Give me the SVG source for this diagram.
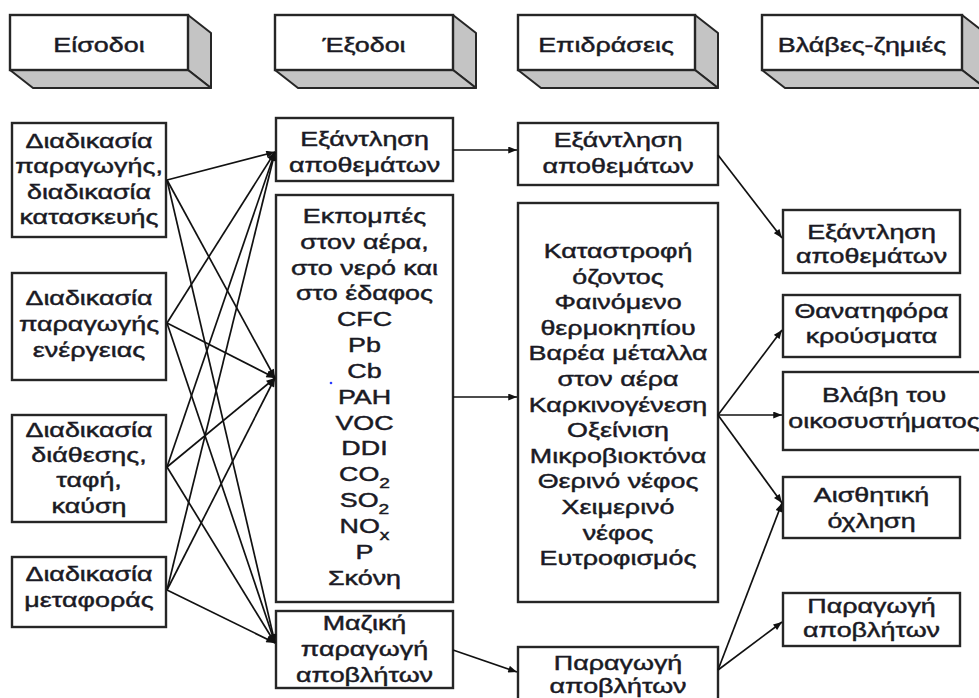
<svg xmlns="http://www.w3.org/2000/svg" width="979" height="698" viewBox="0 0 979 698">
  <defs>
    <marker id="arrow" viewBox="0 0 10 8" refX="10" refY="4" markerWidth="10" markerHeight="7" markerUnits="userSpaceOnUse" orient="auto">
      <path d="M0,0 L10,4 L0,8 Z" fill="#111"/>
    </marker>
  </defs>
  <style>
    .box { fill: #fff; stroke: #262626; stroke-width: 2.4; }
    .side { fill: #c4c4c4; stroke: #262626; stroke-width: 2; stroke-linejoin: round; }
    .lbl { font-family: "Liberation Sans", Arial, sans-serif; font-size: 21px; fill: #1a1a24; stroke: #1a1a24; stroke-width: 0.45; text-anchor: middle; }
    .sub { font-size: 15px; }
    .conn line { stroke: #111; stroke-width: 1.7; marker-end: url(#arrow); }
  </style>

  <rect width="979" height="698" fill="#fff"/>

  <!-- column headers drawn as 3D blocks -->
  <g id="hdr-inputs">
    <polygon class="side" points="188,15 211,33 211,88 188,70"/>
    <polygon class="side" points="10,70 188,70 211,88 33,88"/>
    <rect class="box" x="10" y="15" width="178" height="55"/>
    <g transform="translate(99 0) scale(1.28 1)"><text class="lbl" x="0" y="52">Είσοδοι</text></g>
  </g>
  <g id="hdr-outputs">
    <polygon class="side" points="453,15 476,33 476,88 453,70"/>
    <polygon class="side" points="275,70 453,70 476,88 298,88"/>
    <rect class="box" x="275" y="15" width="178" height="55"/>
    <g transform="translate(364 0) scale(1.28 1)"><text class="lbl" x="0" y="52">Έξοδοι</text></g>
  </g>
  <g id="hdr-effects">
    <polygon class="side" points="695,15 718,33 718,88 695,70"/>
    <polygon class="side" points="518,70 695,70 718,88 541,88"/>
    <rect class="box" x="518" y="15" width="177" height="55"/>
    <g transform="translate(606 0) scale(1.28 1)"><text class="lbl" x="0" y="52">Επιδράσεις</text></g>
  </g>
  <g id="hdr-damages">
    <polygon class="side" points="962,15 985,33 985,88 962,70"/>
    <polygon class="side" points="762,70 962,70 985,88 785,88"/>
    <rect class="box" x="762" y="15" width="200" height="55"/>
    <g transform="translate(862 0) scale(1.28 1)"><text class="lbl" x="0" y="52">Βλάβες-ζημιές</text></g>
  </g>

  <!-- inputs -->
  <g id="in-production">
    <rect class="box" x="12" y="123" width="154" height="114"/>
    <g transform="translate(89 0) scale(1.28 1)">
      <text class="lbl" x="0" y="148">Διαδικασία</text>
      <text class="lbl" x="0" y="173.5">παραγωγής,</text>
      <text class="lbl" x="0" y="199">διαδικασία</text>
      <text class="lbl" x="0" y="224.5">κατασκευής</text>
    </g>
  </g>
  <g id="in-energy">
    <rect class="box" x="12" y="273" width="154" height="107"/>
    <g transform="translate(89 0) scale(1.28 1)">
      <text class="lbl" x="0" y="305">Διαδικασία</text>
      <text class="lbl" x="0" y="331">παραγωγής</text>
      <text class="lbl" x="0" y="357">ενέργειας</text>
    </g>
  </g>
  <g id="in-disposal">
    <rect class="box" x="12" y="415" width="154" height="107"/>
    <g transform="translate(89 0) scale(1.28 1)">
      <text class="lbl" x="0" y="437">Διαδικασία</text>
      <text class="lbl" x="0" y="462">διάθεσης,</text>
      <text class="lbl" x="0" y="487.5">ταφή,</text>
      <text class="lbl" x="0" y="513">καύση</text>
    </g>
  </g>
  <g id="in-transport">
    <rect class="box" x="12" y="557" width="154" height="70"/>
    <g transform="translate(89 0) scale(1.28 1)">
      <text class="lbl" x="0" y="581">Διαδικασία</text>
      <text class="lbl" x="0" y="607">μεταφοράς</text>
    </g>
  </g>

  <!-- outputs -->
  <g id="out-depletion">
    <rect class="box" x="276" y="118" width="177" height="63"/>
    <g transform="translate(364.5 0) scale(1.28 1)">
      <text class="lbl" x="0" y="146">Εξάντληση</text>
      <text class="lbl" x="0" y="172">αποθεμάτων</text>
    </g>
  </g>
  <g id="out-emissions">
    <rect class="box" x="276" y="195" width="177" height="407"/>
    <g transform="translate(364.5 0) scale(1.28 1)">
      <text class="lbl" x="0" y="223">Εκπομπές</text>
      <text class="lbl" x="0" y="249">στον αέρα,</text>
      <text class="lbl" x="0" y="275">στο νερό και</text>
      <text class="lbl" x="0" y="300.5">στο έδαφος</text>
      <text class="lbl" x="0" y="326.5">CFC</text>
      <text class="lbl" x="0" y="352.5">Pb</text>
      <text class="lbl" x="0" y="378">Cb</text>
      <text class="lbl" x="0" y="404">PAH</text>
      <text class="lbl" x="0" y="430">VOC</text>
      <text class="lbl" x="0" y="455.5">DDI</text>
      <text class="lbl" x="0" y="481.5">CO<tspan class="sub" dy="7">2</tspan></text>
      <text class="lbl" x="0" y="507.5">SO<tspan class="sub" dy="7">2</tspan></text>
      <text class="lbl" x="0" y="533">NO<tspan class="sub" dy="7">x</tspan></text>
      <text class="lbl" x="0" y="559">P</text>
      <text class="lbl" x="0" y="585">Σκόνη</text>
    </g>
    <circle cx="331" cy="383" r="1.3" fill="#2a3cff"/>
  </g>
  <g id="out-waste">
    <rect class="box" x="276" y="611" width="177" height="77"/>
    <g transform="translate(364.5 0) scale(1.28 1)">
      <text class="lbl" x="0" y="630">Μαζική</text>
      <text class="lbl" x="0" y="656">παραγωγή</text>
      <text class="lbl" x="0" y="682">αποβλήτων</text>
    </g>
  </g>

  <!-- effects -->
  <g id="eff-depletion">
    <rect class="box" x="518" y="123" width="200" height="62"/>
    <g transform="translate(618 0) scale(1.28 1)">
      <text class="lbl" x="0" y="147">Εξάντληση</text>
      <text class="lbl" x="0" y="173">αποθεμάτων</text>
    </g>
  </g>
  <g id="eff-impacts">
    <rect class="box" x="518" y="203" width="200" height="399"/>
    <g transform="translate(618 0) scale(1.28 1)">
      <text class="lbl" x="0" y="258">Καταστροφή</text>
      <text class="lbl" x="0" y="283.6">όζοντος</text>
      <text class="lbl" x="0" y="309.2">Φαινόμενο</text>
      <text class="lbl" x="0" y="334.8">θερμοκηπίου</text>
      <text class="lbl" x="0" y="360.4">Βαρέα μέταλλα</text>
      <text class="lbl" x="0" y="386">στον αέρα</text>
      <text class="lbl" x="0" y="411.6">Καρκινογένεση</text>
      <text class="lbl" x="0" y="437.2">Οξείνιση</text>
      <text class="lbl" x="0" y="462.8">Μικροβιοκτόνα</text>
      <text class="lbl" x="0" y="488.4">Θερινό νέφος</text>
      <text class="lbl" x="0" y="514">Χειμερινό</text>
      <text class="lbl" x="0" y="539.6">νέφος</text>
      <text class="lbl" x="0" y="565.2">Ευτροφισμός</text>
    </g>
  </g>
  <g id="eff-waste">
    <rect class="box" x="518" y="647" width="200" height="54"/>
    <g transform="translate(618 0) scale(1.28 1)">
      <text class="lbl" x="0" y="670">Παραγωγή</text>
      <text class="lbl" x="0" y="693">αποβλήτων</text>
    </g>
  </g>

  <!-- damages -->
  <g id="dmg-depletion">
    <rect class="box" x="783" y="210" width="177" height="63"/>
    <g transform="translate(871.5 0) scale(1.28 1)">
      <text class="lbl" x="0" y="239">Εξάντληση</text>
      <text class="lbl" x="0" y="263">αποθεμάτων</text>
    </g>
  </g>
  <g id="dmg-fatal">
    <rect class="box" x="783" y="295" width="177" height="62"/>
    <g transform="translate(871.5 0) scale(1.28 1)">
      <text class="lbl" x="0" y="318">Θανατηφόρα</text>
      <text class="lbl" x="0" y="343">κρούσματα</text>
    </g>
  </g>
  <g id="dmg-ecosystem">
    <rect class="box" x="783" y="372" width="205" height="78"/>
    <g transform="translate(884 0) scale(1.28 1)">
      <text class="lbl" x="0" y="402">Βλάβη του</text>
      <text class="lbl" x="0" y="428">οικοσυστήματος</text>
    </g>
  </g>
  <g id="dmg-aesthetic">
    <rect class="box" x="783" y="477" width="177" height="61"/>
    <g transform="translate(871.5 0) scale(1.28 1)">
      <text class="lbl" x="0" y="502">Αισθητική</text>
      <text class="lbl" x="0" y="528">όχληση</text>
    </g>
  </g>
  <g id="dmg-waste">
    <rect class="box" x="783" y="593" width="177" height="53"/>
    <g transform="translate(871.5 0) scale(1.28 1)">
      <text class="lbl" x="0" y="613">Παραγωγή</text>
      <text class="lbl" x="0" y="637">αποβλήτων</text>
    </g>
  </g>

  <!-- connectors -->
  <g id="connectors" class="conn">
    <!-- inputs to outputs -->
    <line x1="167" y1="180" x2="275" y2="152"/>
    <line x1="167" y1="180" x2="275" y2="378"/>
    <line x1="167" y1="180" x2="275" y2="643"/>
    <line x1="167" y1="323" x2="275" y2="152"/>
    <line x1="167" y1="323" x2="275" y2="378"/>
    <line x1="167" y1="323" x2="275" y2="643"/>
    <line x1="167" y1="467" x2="275" y2="152"/>
    <line x1="167" y1="467" x2="275" y2="378"/>
    <line x1="167" y1="467" x2="275" y2="643"/>
    <line x1="167" y1="590" x2="275" y2="152"/>
    <line x1="167" y1="590" x2="275" y2="378"/>
    <line x1="167" y1="590" x2="275" y2="643"/>
    <!-- outputs to effects -->
    <line x1="453" y1="150" x2="517" y2="150"/>
    <line x1="453" y1="397" x2="517" y2="397"/>
    <line x1="453" y1="650" x2="517" y2="672"/>
    <!-- effects to damages -->
    <line x1="718" y1="155" x2="782" y2="238"/>
    <line x1="718" y1="415" x2="782" y2="330"/>
    <line x1="718" y1="415" x2="782" y2="415"/>
    <line x1="718" y1="415" x2="782" y2="503"/>
    <line x1="718" y1="670" x2="782" y2="503"/>
    <line x1="718" y1="670" x2="782" y2="622"/>
  </g>
</svg>
